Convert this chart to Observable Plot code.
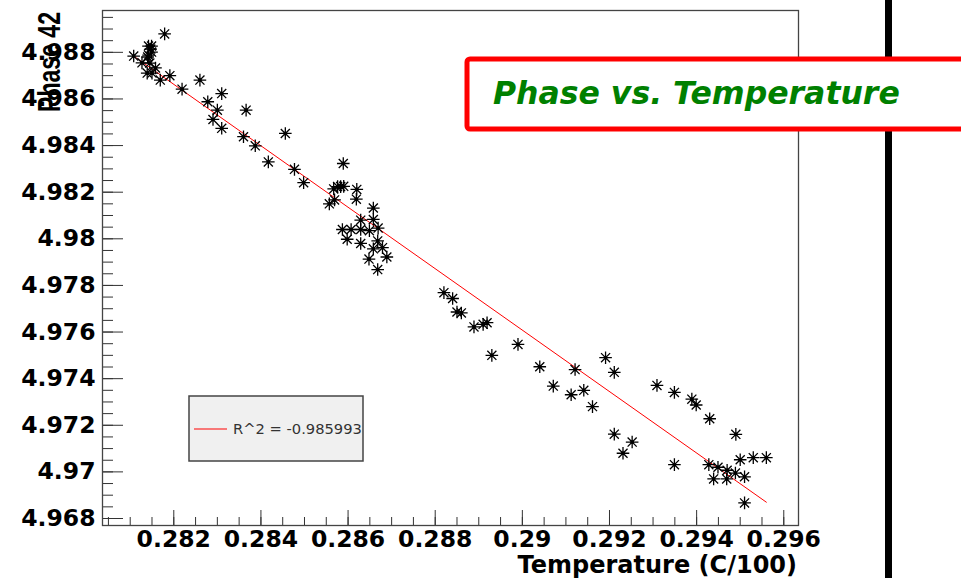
<!DOCTYPE html>
<html>
<head>
<meta charset="utf-8">
<script src="https://cdn.jsdelivr.net/npm/d3@7"></script>
<script src="https://cdn.jsdelivr.net/npm/@observablehq/plot@0.6"></script>
<style>
  html, body { margin: 0; padding: 0; background: #fff; }
  #chart { position: relative; width: 961px; height: 578px; overflow: hidden; }
</style>
</head>
<body>
<div id="chart"></div>
<script>
// ---- data ----
const temperature = [
  0.28108, 0.28179, 0.28142, 0.28149, 0.28147, 0.28149, 0.28142, 0.28127, 0.28140, 0.28139,
  0.28150, 0.28145, 0.28158, 0.28169, 0.28191, 0.28219, 0.28260, 0.28278, 0.28310, 0.28300,
  0.28290, 0.28310, 0.28366, 0.28360, 0.28387, 0.28417, 0.28456, 0.28477, 0.28498, 0.28589,
  0.28567, 0.28576, 0.28583, 0.28590, 0.28620, 0.28619, 0.28557, 0.28569, 0.28658, 0.28629,
  0.28658, 0.28587, 0.28607, 0.28629, 0.28649, 0.28669, 0.28598, 0.28629, 0.28668, 0.28658,
  0.28679, 0.28648, 0.28689, 0.28668, 0.28820, 0.28840, 0.28850, 0.28860, 0.28889, 0.28910,
  0.28919, 0.28930, 0.28990, 0.29040, 0.29071, 0.29112, 0.29121, 0.29141, 0.29161, 0.29191,
  0.29211, 0.29211, 0.29231, 0.29252, 0.29309, 0.29349, 0.29389, 0.29399, 0.29430, 0.29490,
  0.29349, 0.29428, 0.29449, 0.29470, 0.29489, 0.29500, 0.29530, 0.29560, 0.29439, 0.29469,
  0.29510, 0.29510
];
const phase = [
  4.98784, 4.98879, 4.98827, 4.98827, 4.98814, 4.98801, 4.98788, 4.98755, 4.98780, 4.98711,
  4.98711, 4.98754, 4.98733, 4.98681, 4.98700, 4.98642, 4.98681, 4.98588, 4.98623, 4.98552,
  4.98512, 4.98474, 4.98552, 4.98438, 4.98399, 4.98330, 4.98452, 4.98298, 4.98241, 4.98323,
  4.98214, 4.98224, 4.98224, 4.98225, 4.98212, 4.98170, 4.98150, 4.98167, 4.98132, 4.98080,
  4.98083, 4.98040, 4.98040, 4.98040, 4.98035, 4.98046, 4.97998, 4.97980, 4.97991, 4.97957,
  4.97962, 4.97913, 4.97922, 4.97868, 4.97769, 4.97744, 4.97686, 4.97682, 4.97622, 4.97633,
  4.97640, 4.97500, 4.97547, 4.97451, 4.97368, 4.97331, 4.97439, 4.97350, 4.97280, 4.97490,
  4.97427, 4.97162, 4.97080, 4.97128, 4.97371, 4.97341, 4.97312, 4.97287, 4.97228, 4.97161,
  4.97031, 4.97031, 4.97020, 4.97007, 4.96995, 4.97052, 4.97061, 4.97061, 4.96970, 4.96970,
  4.96979, 4.96867
];
// linear fit end points
const fitTemperature = [0.28108, 0.29560];
const fitPhase = [4.98784, 4.96870];
const fitLabel = "R^2 = -0.985993";

const xTicks = [0.282, 0.284, 0.286, 0.288, 0.290, 0.292, 0.294, 0.296];
const xTickLabels = ["0.282", "0.284", "0.286", "0.288", "0.29", "0.292", "0.294", "0.296"];
const yTicks = [4.968, 4.970, 4.972, 4.974, 4.976, 4.978, 4.980, 4.982, 4.984, 4.986, 4.988];
const yTickLabels = ["4.968", "4.97", "4.972", "4.974", "4.976", "4.978", "4.98", "4.982", "4.984", "4.986", "4.988"];

const titleText = "Phase vs. Temperature";
const xTitle = "Temperature (C/100)";
const yTitle = "Phase 42";

// ---- build ----
const points = temperature.map((t, i) => ({t, p: phase[i]}));
const fit = fitTemperature.map((t, i) => ({t, p: fitPhase[i]}));
const xMinor = d3.range(0.2805, 0.29634, 0.0005).map(v => +v.toFixed(4));
const yMinor = d3.range(4.968, 4.9898, 0.0005).map(v => +v.toFixed(4));

const star8 = {
  draw(context, size) {
    const r = Math.sqrt(size / Math.PI);
    const d = r * 0.72;
    context.moveTo(-r, 0); context.lineTo(r, 0);
    context.moveTo(0, -r); context.lineTo(0, r);
    context.moveTo(-d, -d); context.lineTo(d, d);
    context.moveTo(-d, d); context.lineTo(d, -d);
  }
};

const tickFont = {fontFamily: "DejaVu Sans", fontSize: 23.5, fontWeight: "bold", fill: "black"};

const plot = Plot.plot({
  width: 961,
  height: 578,
  marginLeft: 102,
  marginRight: 163,
  marginTop: 10,
  marginBottom: 53,
  style: {fontFamily: "DejaVu Sans", background: "white", overflow: "visible"},
  x: {domain: [0.280364, 0.296338], axis: null},
  y: {domain: [4.96770, 4.989795], axis: null},
  marks: [
    // ticks pointing inward
    Plot.axisX(xMinor, {anchor: "bottom", tickSize: -8, text: null, label: null, stroke: "#333"}),
    Plot.axisX(xTicks, {anchor: "bottom", tickSize: -15, text: null, label: null, stroke: "#333"}),
    Plot.axisY(yMinor, {anchor: "left", tickSize: -11, text: null, label: null, stroke: "#333"}),
    Plot.axisY(yTicks, {anchor: "left", tickSize: -21, text: null, label: null, stroke: "#333"}),
    // tick labels
    Plot.axisX(xTicks, {anchor: "bottom", tickSize: 0, tickPadding: 5, label: null,
      tickFormat: d => xTickLabels[xTicks.indexOf(d)], ...tickFont}),
    Plot.axisY(yTicks, {anchor: "left", tickSize: 0, tickPadding: 7, label: null,
      tickFormat: d => yTickLabels[yTicks.indexOf(d)], ...tickFont}),
    Plot.frame({stroke: "#444", strokeWidth: 1.3}),
    Plot.line(fit, {x: "t", y: "p", stroke: "#ff0000", strokeWidth: 1}),
    Plot.dot(points, {x: "t", y: "p", symbol: star8, r: 6.3, stroke: "black", strokeWidth: 1.3, fill: "none"}),
    Plot.dot(points, {x: "t", y: "p", r: 1.8, fill: "black", stroke: "none"})
  ]
});

document.getElementById("chart").appendChild(plot);

// ---- annotations (titles, legend, title box) ----
const svg = d3.select(plot);

// axis titles
svg.append("text")
  .attr("x", 797).attr("y", 573)
  .attr("text-anchor", "end")
  .attr("font-family", "DejaVu Sans").attr("font-weight", "bold").attr("font-size", 24)
  .attr("fill", "black")
  .text(xTitle);

svg.append("text")
  .attr("transform", "translate(60,12) rotate(-90)")
  .attr("text-anchor", "end")
  .attr("font-family", "Liberation Sans").attr("font-weight", "bold").attr("font-size", 31)
  .attr("textLength", 100).attr("lengthAdjust", "spacingAndGlyphs")
  .attr("fill", "black")
  .text(yTitle);

// legend box
const lg = svg.append("g");
lg.append("rect")
  .attr("x", 189).attr("y", 396).attr("width", 174).attr("height", 65)
  .attr("fill", "#f0f0f0").attr("stroke", "#444").attr("stroke-width", 1.5);
lg.append("line")
  .attr("x1", 194).attr("x2", 227).attr("y1", 429).attr("y2", 429)
  .attr("stroke", "#ff0000").attr("stroke-width", 1);
lg.append("text")
  .attr("x", 233).attr("y", 429).attr("dy", "0.36em")
  .attr("text-anchor", "start")
  .attr("font-family", "DejaVu Sans").attr("font-size", 14.7).attr("fill", "#333")
  .text(fitLabel);

// thick black vertical bar on the right
svg.append("rect")
  .attr("x", 885).attr("y", 0).attr("width", 7).attr("height", 578)
  .attr("fill", "black");

// title box
svg.append("rect")
  .attr("x", 467).attr("y", 59).attr("width", 500).attr("height", 70)
  .attr("rx", 3)
  .attr("fill", "white").attr("stroke", "#ff0000").attr("stroke-width", 5);
svg.append("text")
  .attr("x", 493).attr("y", 104)
  .attr("text-anchor", "start")
  .attr("font-family", "DejaVu Sans").attr("font-weight", "bold").attr("font-style", "italic")
  .attr("font-size", 31.5).attr("fill", "#008000")
  .text(titleText);
</script>
</body>
</html>
